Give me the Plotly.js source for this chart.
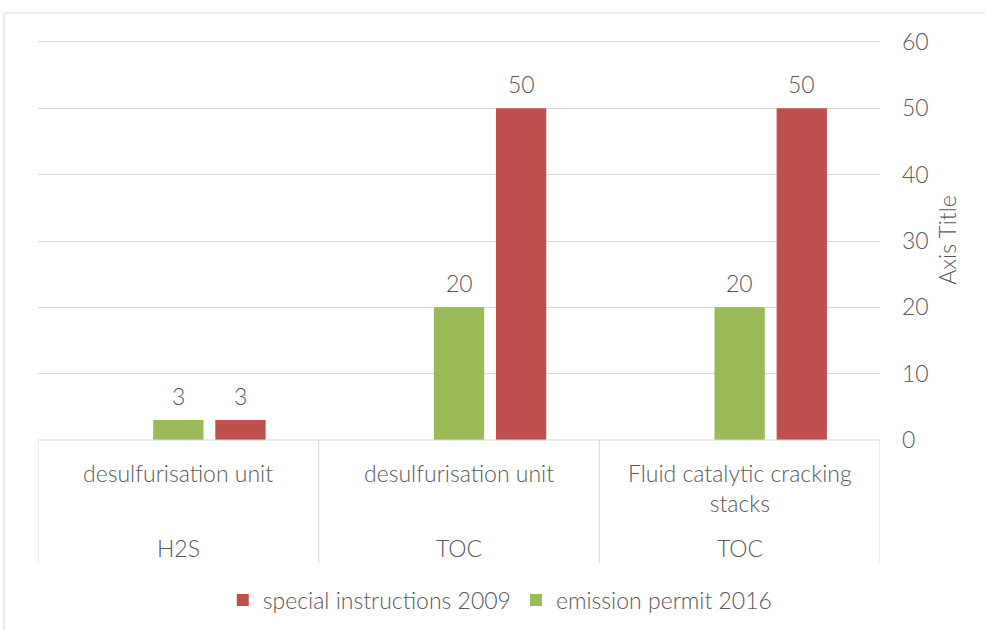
<!DOCTYPE html>
<html><head><meta charset="utf-8">
<script src="https://cdn.plot.ly/plotly-3.0.1.min.js"></script>
<style>html,body{margin:0;padding:0;background:#fff}#chart{width:985px;height:630px}</style>
</head><body><div id="chart"></div>
<script>
const categories = ["c1", "c2", "c3"];
const unitLabels = ["desulfurisation unit", "desulfurisation unit", "Fluid catalytic cracking<br>stacks"];
const pollutantLabels = ["H2S", "TOC", "TOC"];
const emissionPermit2016 = [3, 20, 20];
const specialInstructions2009 = [3, 50, 50];
const emptySeries = [null, null, null];

const txt = '#595959';
const font = 'Lato, "Open Sans", sans-serif';
const fs = 23;
const fw = 300;

const traces = [
  {type:'bar', x:categories, y:emptySeries, name:'', showlegend:false, marker:{color:'rgba(0,0,0,0)'}, hoverinfo:'skip'},
  {type:'bar', x:categories, y:emissionPermit2016, name:'emission permit 2016', marker:{color:'#9BBB59'}},
  {type:'bar', x:categories, y:specialInstructions2009, name:'special instructions 2009', marker:{color:'#C0504D'}}
];

const T = 40, B = 190, W = 842;
const H = 630 - T - B; // 400
const slot = 62 / 280; // group slot width in category units
const annotations = [];
categories.forEach((c, i) => {
  annotations.push({x:i, xref:'x', y:-17/H, yref:'paper', yanchor:'top', text:unitLabels[i], showarrow:false,
    font:{color:txt, size:fs, family:font, weight:fw}, align:'center'});
  annotations.push({x:i, xref:'x', y:-108/H, yref:'paper', yanchor:'middle', text:pollutantLabels[i], showarrow:false,
    font:{color:txt, size:fs, family:font, weight:fw}});
  annotations.push({x:i, xref:'x', y:emissionPermit2016[i], yref:'y', yanchor:'bottom', yshift:8, text:String(emissionPermit2016[i]),
    showarrow:false, font:{color:txt, size:fs, family:font, weight:fw}});
  annotations.push({x:i + slot, xref:'x', y:specialInstructions2009[i], yref:'y', yanchor:'bottom', yshift:8, text:String(specialInstructions2009[i]),
    showarrow:false, font:{color:txt, size:fs, family:font, weight:fw}});
});

const shapes = [];
for (let k = 0; k <= categories.length; k++) {
  shapes.push({type:'line', xref:'x', yref:'paper', x0:k-0.5, x1:k-0.5, y0:0, y1:-123/H, line:{color:'#D9D9D9', width:1}});
}
shapes.push({type:'line', xref:'paper', yref:'paper', x0:0, x1:1, y0:0, y1:0, line:{color:'#D9D9D9', width:1}});
// chart frame
shapes.push({type:'line', xref:'paper', yref:'paper', x0:-34/W, x1:-34/W, y0:(440-13)/H, y1:(440-640)/H, line:{color:'#D9D9D9', width:1}});
shapes.push({type:'line', xref:'paper', yref:'paper', x0:-34/W, x1:(990-38)/W, y0:(440-13)/H, y1:(440-13)/H, line:{color:'#D9D9D9', width:1}});

const layout = {
  width:985, height:630,
  margin:{l:38, r:105, t:T, b:B, autoexpand:false},
  paper_bgcolor:'#fff', plot_bgcolor:'#fff',
  barmode:'group', bargap:0.336, bargroupgap:0.19,
  font:{family:font, color:txt, size:fs, weight:fw},
  xaxis:{type:'category', showticklabels:false, showgrid:false, zeroline:false, showline:false, ticks:'', range:[-0.5, 2.5], automargin:false},
  yaxis:{side:'right', range:[0,60.3], dtick:10, showgrid:true, gridcolor:'#D9D9D9', gridwidth:1, zeroline:false, showline:false,
    ticks:'', ticklabelstandoff:21, automargin:false, tickfont:{size:fs, color:txt, family:font, weight:fw},
    title:{text:'Axis Title', font:{size:fs, color:txt, family:font, weight:fw}, standoff:12}},
  legend:{orientation:'h', x:0.549, xanchor:'center', y:(440-600)/H, yanchor:'middle', traceorder:'reversed',
    font:{size:fs, color:txt, family:font, weight:fw}, itemwidth:30},
  annotations:annotations, shapes:shapes, showlegend:true
};

Plotly.newPlot('chart', traces, layout, {displayModeBar:false, staticPlot:true});
</script></body></html>
